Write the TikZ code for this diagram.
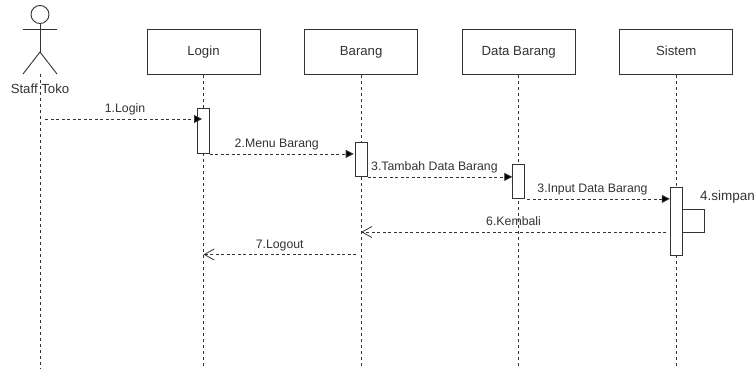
\documentclass[tikz,border=0pt]{standalone}
\usepackage{fontspec}
\setmainfont{Liberation Sans}
\usetikzlibrary{arrows.meta,calc}
\definecolor{ink}{HTML}{333333}
\tikzset{
  x=1pt,y=-1pt,
  every node/.style={text=ink,inner sep=0pt,font=\fontsize{12.3}{14}\selectfont},
  objbox/.style={draw=ink,fill=white,line width=.9pt,minimum width=113pt,minimum height=45pt,anchor=north west,font=\fontsize{13.2}{15}\selectfont,text height=9.5pt,text depth=2.5pt},
  actbox/.style={draw=ink,fill=white,line width=.9pt,minimum width=12pt,minimum height=#1,anchor=north west},
  life/.style={draw=ink,line width=.9pt,dash pattern=on 3pt off 3pt},
  msg/.style={draw=ink,line width=.8pt,dash pattern=on 3pt off 2.5pt,-{Triangle[length=8pt,width=8pt,fill=black]}},
  ret/.style={draw=ink,line width=.8pt,dash pattern=on 3pt off 2.5pt,-{Straight Barb[length=10pt,width=11pt,line width=.8pt]}},
  limb/.style={draw=ink,line width=.9pt},
  lbl/.style={above=3.5pt,text height=9pt,text depth=2.5pt}
}
\begin{document}
\begin{tikzpicture}
\useasboundingbox (0,0) rectangle (755,369);
% actor
\node (head) [circle,draw=ink,line width=.9pt,minimum size=18pt] at (40,14.5) {};
\coordinate (hip) at (40,52);
\coordinate (armL) at (23,29);
\coordinate (armR) at (57,29);
\coordinate (legL) at (23,74);
\coordinate (legR) at (57,74);
\coordinate (actorfoot) at (40,74);
\draw[limb] (head.south) -- (hip);
\draw[limb] (armL) -- (armR);
\draw[limb] (legL) -- (hip) -- (legR);
% objects
\node[objbox] (login) at (146.5,29) {Login};
\node[objbox] (barang) at (304.2,29) {Barang};
\node[objbox] (data) at (461.8,29) {Data Barang};
\node[objbox] (sistem) at (619.3,29) {Sistem};
% lifeline ends
\coordinate (endA) at (40,369);
\coordinate (endL) at (login.south |- endA);
\coordinate (endB) at (barang.south |- endA);
\coordinate (endD) at (data.south |- endA);
\coordinate (endS) at (sistem.south |- endA);
\draw[life] (actorfoot) -- (endA);
\draw[life] (login.south) -- (endL);
\draw[life] (barang.south) -- (endB);
\draw[life] (data.south) -- (endD);
\draw[life] (sistem.south) -- (endS);
\node[font=\fontsize{13.2}{15}\selectfont] at (40,89) {Staff Toko};
% activations
\node[actbox=45pt] (aL) at (197,108) {};
\node[actbox=34pt] (aB) at (354.7,142) {};
\node[actbox=34pt] (aD) at (512.3,164) {};
\node[actbox=67.5pt] (aS) at (669.8,187) {};
% messages
\coordinate (s1) at (45,119);
\coordinate (e1) at (202,119);
\draw[msg] (s1) -- node[lbl,xshift=1.5pt] {1.Login} (e1);
\draw[msg,shorten >=1pt] (aL.south east) -- node[lbl,xshift=-5.5pt] {2.Menu Barang} (aB.west |- aL.south);
\draw[msg] (aB.south east) -- node[lbl,xshift=-5.5pt] {3.Tambah Data Barang} (aD.west |- aB.south);
\draw[msg] ($(aD.south east)+(2,0)$) -- node[lbl,xshift=-6pt] {3.Input Data Barang} (aS.west |- aD.south);
% self
\coordinate (l1) at (682,209);
\coordinate (l2) at (704.5,209);
\coordinate (l3) at (704.5,232);
\coordinate (l4) at (682,232);
\draw[draw=ink,line width=.9pt] (l1) -- (l2) -- (l3) -- (l4);
\node[anchor=west,font=\fontsize{13.5}{15}\selectfont] (simpan) at (700,197) {4.simpan};
% returns
\coordinate (r6) at (666,232);
\coordinate (t6) at (barang.south |- r6);
\draw[ret] (r6) -- node[lbl] {6.Kembali} (t6);
\coordinate (r7) at (356,254.5);
\coordinate (t7) at (login.south |- r7);
\draw[ret] (r7) -- node[lbl] {7.Logout} (t7);
\end{tikzpicture}
\end{document}
